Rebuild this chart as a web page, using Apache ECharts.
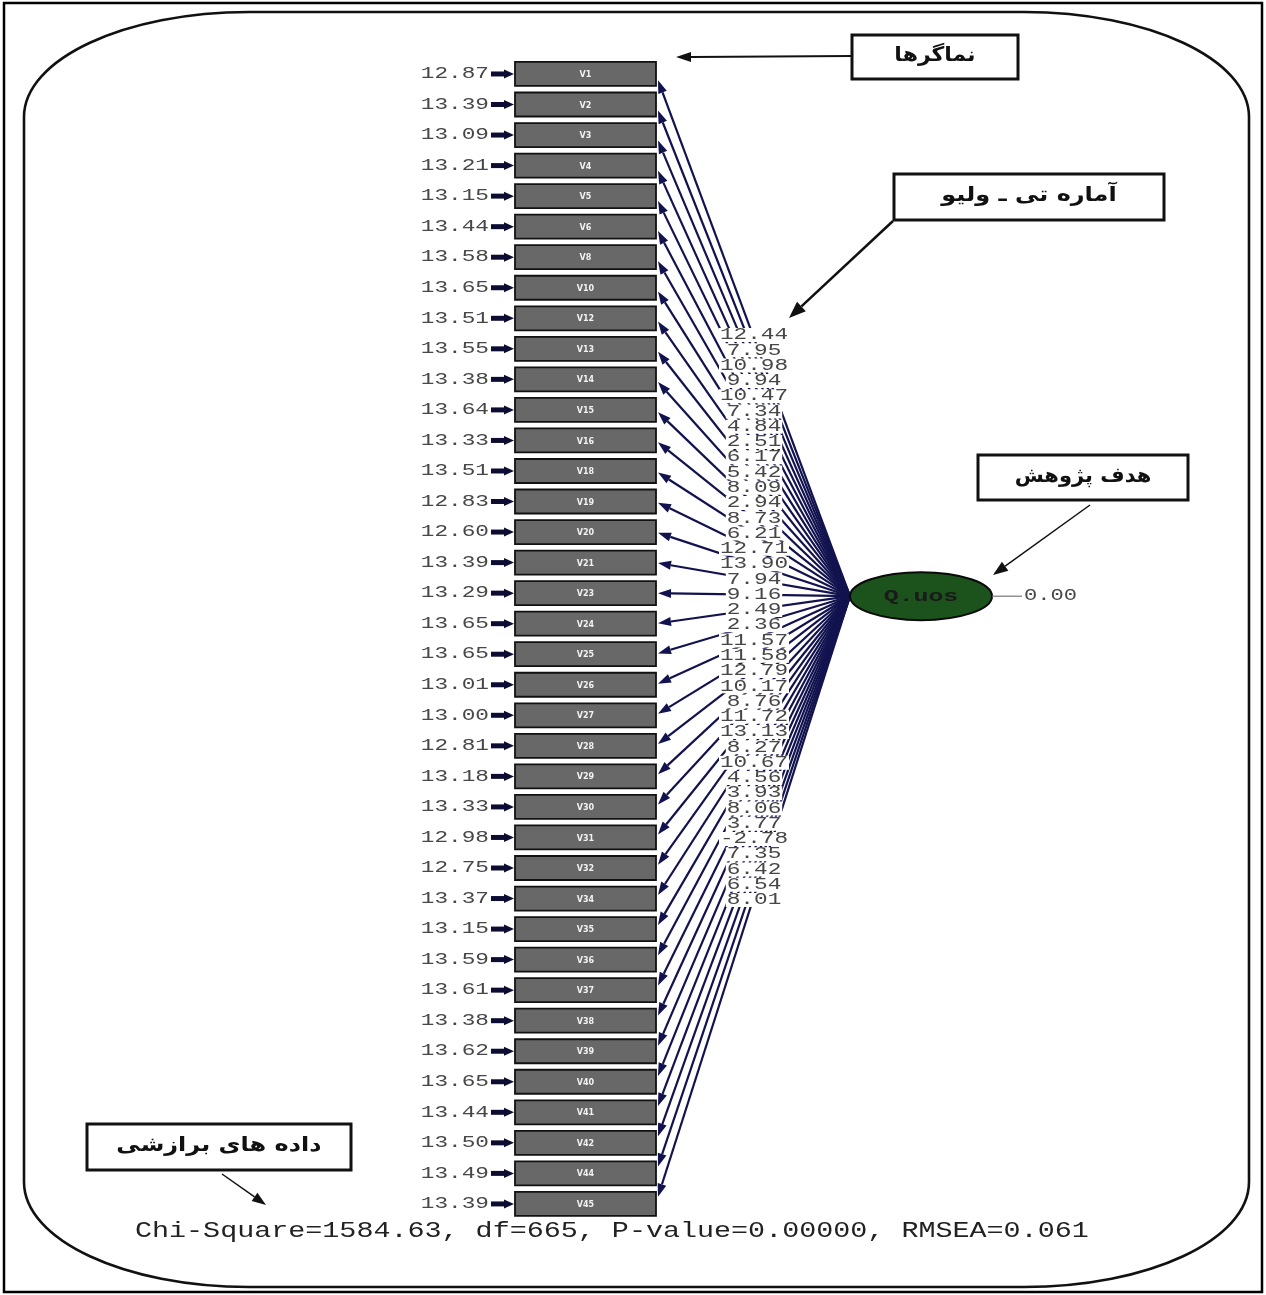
<!DOCTYPE html>
<html>
<head>
<meta charset="utf-8">
<script src="https://cdn.jsdelivr.net/npm/echarts@6/dist/echarts.min.js"></script>
<style>
html,body{margin:0;padding:0;background:#ffffff;}
#c{width:1266px;height:1295px;}
</style>
</head>
<body>
<div id="c"></div>
<script>
// ---------------- DATA ----------------
const indicators = ['V1','V2','V3','V4','V5','V6','V8','V10','V12','V13','V14','V15','V16','V18','V19','V20','V21','V23','V24','V25','V26','V27','V28','V29','V30','V31','V32','V34','V35','V36','V37','V38','V39','V40','V41','V42','V44','V45'];
const errorVariances = [12.87,13.39,13.09,13.21,13.15,13.44,13.58,13.65,13.51,13.55,13.38,13.64,13.33,13.51,12.83,12.60,13.39,13.29,13.65,13.65,13.01,13.00,12.81,13.18,13.33,12.98,12.75,13.37,13.15,13.59,13.61,13.38,13.62,13.65,13.44,13.50,13.49,13.39];
const tValues = [12.44,7.95,10.98,9.94,10.47,7.34,4.84,2.51,6.17,5.42,8.09,2.94,8.73,6.21,12.71,13.90,7.94,9.16,2.49,2.36,11.57,11.58,12.79,10.17,8.76,11.72,13.13,8.27,10.67,4.56,3.93,8.06,3.77,-2.78,7.35,6.42,6.54,8.01];
const latentName = 'Q.uos';
const latentErrorValue = 0.00;
const fitLabels = ['Chi-Square','df','P-value','RMSEA'];
const fitValues = ['1584.63','665','0.00000','0.061'];
const noteIndicators = 'نماگرها';
const noteTValues = 'آماره تی ـ ولیو';
const noteGoal = 'هدف پژوهش';
const noteFit = 'داده های برازشی';

// ---------------- LAYOUT / STYLE ----------------
const L = {
  boxL: 515, boxR: 656, boxH: 24,
  errTextR: 489, errArrowL: 491,
  latCX: 921, latRX: 71, latRY: 24, latRow: 17, latRowOffset: 0.1,
  monoFont: '"Liberation Mono", "DejaVu Sans Mono", monospace',
  numColor: '#474747',
  pathColor: '#12124f',
  charW: 13.6
};

function latentCenter(api) {
  const p = api.coord([L.latCX, L.latRow]);
  const band = api.size([0, 1])[1];
  return [p[0], p[1] + band * L.latRowOffset];
}
function xPix(api, x) { return api.coord([x, 0])[0]; }

function head(tip, from, len, half) {
  const dx = tip[0] - from[0], dy = tip[1] - from[1];
  const d = Math.hypot(dx, dy), ux = dx / d, uy = dy / d;
  const bx = tip[0] - ux * len, by = tip[1] - uy * len;
  const nx = -uy, ny = ux;
  return { base: [bx, by], pts: [tip, [bx + nx * half, by + ny * half], [bx - nx * half, by - ny * half]] };
}

function monoText(x, y, text, size, scaleX, color, align, bold) {
  return {
    type: 'text', x: x, y: y, scaleX: scaleX,
    style: {
      text: text,
      font: (bold ? 'bold ' : '') + size + 'px ' + L.monoFont,
      fill: color,
      textAlign: align || 'center',
      textVerticalAlign: 'middle'
    }
  };
}

const rowData = indicators.map((name, i) => [i, errorVariances[i], tValues[i]]);

// path lines from latent to indicators
function renderPath(params, api) {
  const i = api.value(0);
  const cy = api.coord([0, i])[1];
  const lc = latentCenter(api);
  const from = [xPix(api, L.latCX - L.latRX), lc[1]];
  const tip = [xPix(api, L.boxR + 2), cy + (lc[1] - cy) * 0.012];
  const h = head(tip, from, 13, 4.5);
  return {
    type: 'group',
    children: [
      { type: 'line', shape: { x1: from[0], y1: from[1], x2: h.base[0], y2: h.base[1] }, style: { stroke: L.pathColor, lineWidth: 2.2 } },
      { type: 'polygon', shape: { points: h.pts }, style: { fill: L.pathColor } }
    ]
  };
}

// indicator boxes with error terms
function renderBox(params, api) {
  const i = api.value(0);
  const cy = api.coord([0, i])[1];
  const x0 = xPix(api, L.boxL), x1 = xPix(api, L.boxR);
  const ea = xPix(api, L.errArrowL), et = xPix(api, L.errTextR);
  return {
    type: 'group',
    children: [
      { type: 'rect', shape: { x: x0, y: cy - L.boxH / 2, width: x1 - x0, height: L.boxH }, style: { fill: '#686868', stroke: '#111111', lineWidth: 1.8 } },
      { type: 'text', x: (x0 + x1) / 2, y: cy + 1, style: { text: indicators[i], font: 'bold 8px "DejaVu Sans", sans-serif', fill: '#f2f2f2', textAlign: 'center', textVerticalAlign: 'middle' } },
      { type: 'rect', shape: { x: ea, y: cy - 2.5, width: x0 - ea - 9, height: 5 }, style: { fill: '#0d0d33' } },
      { type: 'polygon', shape: { points: [[x0 - 1, cy], [x0 - 11, cy - 4.5], [x0 - 11, cy + 4.5]] }, style: { fill: '#0d0d33' } },
      monoText(et, cy, api.value(1).toFixed(2), 16, 1.42, L.numColor, 'right', false)
    ]
  };
}

// t-value labels at path midpoints
function renderT(params, api) {
  const i = api.value(0);
  const cy = api.coord([0, i])[1];
  const lc = latentCenter(api);
  const fx = xPix(api, L.latCX - L.latRX);
  const tx = xPix(api, L.boxR + 2);
  const mx = (fx + tx) / 2, my = (lc[1] + cy) / 2;
  const txt = api.value(2).toFixed(2);
  const w = txt.length * L.charW + 2;
  return {
    type: 'group',
    children: [
      { type: 'rect', shape: { x: mx - w / 2, y: my - 7, width: w, height: 14 }, style: { fill: '#ffffff' } },
      monoText(mx, my, txt, 16, 1.42, L.numColor, 'center', false)
    ]
  };
}

// latent variable
function renderLatent(params, api) {
  const lc = latentCenter(api);
  const rEdge = xPix(api, L.latCX + L.latRX);
  return {
    type: 'group',
    children: [
      { type: 'ellipse', shape: { cx: lc[0], cy: lc[1], rx: L.latRX, ry: L.latRY }, style: { fill: '#1c521c', stroke: '#0a0a0a', lineWidth: 2 } },
      monoText(lc[0], lc[1] + 1, latentName, 16, 1.55, '#1a1a1a', 'center', true),
      { type: 'line', shape: { x1: rEdge, y1: lc[1], x2: rEdge + 30, y2: lc[1] }, style: { stroke: '#777777', lineWidth: 1.2 } },
      monoText(rEdge + 32, lc[1], latentErrorValue.toFixed(2), 16, 1.38, L.numColor, 'left', false)
    ]
  };
}

// ---------------- DECORATION (frame, notes) ----------------
function arrowEls(x1, y1, x2, y2, lw, len, half) {
  const h = head([x2, y2], [x1, y1], len, half);
  return [
    { type: 'line', shape: { x1: x1, y1: y1, x2: h.base[0], y2: h.base[1] }, style: { stroke: '#111111', lineWidth: lw }, z: 20 },
    { type: 'polygon', shape: { points: h.pts }, style: { fill: '#111111' }, z: 20 }
  ];
}
function noteBox(x, y, w, h, text, sx) {
  return [
    { type: 'rect', shape: { x: x, y: y, width: w, height: h }, style: { fill: '#ffffff', stroke: '#111111', lineWidth: 3 }, z: 20 },
    { type: 'text', x: x + w / 2, y: y + h / 2 - 1, scaleX: sx, style: { text: text, font: 'bold 20px "DejaVu Sans", sans-serif', fill: '#111111', textAlign: 'center', textVerticalAlign: 'middle' }, z: 21 }
  ];
}
function frameEls(l, t, r, b, rx, ry) {
  const k = 0.5523;
  const st = { stroke: '#111111', lineWidth: 2.6, fill: 'none' };
  const ln = (x1, y1, x2, y2) => ({ type: 'line', shape: { x1, y1, x2, y2 }, style: st, z: 1 });
  const bz = (x1, y1, cpx1, cpy1, cpx2, cpy2, x2, y2) => ({ type: 'bezierCurve', shape: { x1, y1, cpx1, cpy1, cpx2, cpy2, x2, y2 }, style: st, z: 1 });
  return [
    ln(l + rx, t, r - rx, t),
    bz(r - rx, t, r - rx + k * rx, t, r, t + ry - k * ry, r, t + ry),
    ln(r, t + ry, r, b - ry),
    bz(r, b - ry, r, b - ry + k * ry, r - rx + k * rx, b, r - rx, b),
    ln(r - rx, b, l + rx, b),
    bz(l + rx, b, l + rx - k * rx, b, l, b - ry + k * ry, l, b - ry),
    ln(l, b - ry, l, t + ry),
    bz(l, t + ry, l, t + ry - k * ry, l + rx - k * rx, t, l + rx, t)
  ];
}

const fitText = fitLabels.map((lab, i) => lab + '=' + fitValues[i]).join(', ');

const graphics = [
  { type: 'rect', shape: { x: 4, y: 3, width: 1258, height: 1289 }, style: { fill: 'none', stroke: '#000000', lineWidth: 2.5 }, z: 0 },
  ...frameEls(24, 12, 1249, 1287, 225, 105),
  ...noteBox(852, 35, 166, 44, noteIndicators, 1.1),
  ...arrowEls(852, 56, 676, 57, 2, 15, 5),
  ...noteBox(894, 174, 270, 46, noteTValues, 1.2),
  ...arrowEls(893, 221, 789, 318, 2.5, 17, 6.5),
  ...noteBox(978, 455, 210, 45, noteGoal, 1.05),
  ...arrowEls(1090, 505, 993, 575, 1.5, 15, 5.5),
  ...noteBox(87, 1124, 264, 46, noteFit, 1.2),
  ...arrowEls(222, 1174, 266, 1205, 1.5, 14, 5),
  { type: 'text', x: 135, y: 1231, scaleX: 1.29, style: { text: fitText, font: '22px ' + L.monoFont, fill: '#222222', textAlign: 'left', textVerticalAlign: 'middle' }, z: 20 }
];

// ---------------- CHART ----------------
const chart = echarts.init(document.getElementById('c'));
chart.setOption({
  backgroundColor: '#ffffff',
  animation: false,
  grid: { left: 0, right: 0, top: 58.7, bottom: 75.8 },
  xAxis: { type: 'value', min: 0, max: 1266, show: false },
  yAxis: { type: 'category', data: indicators, inverse: true, show: false },
  graphic: graphics,
  series: [
    { type: 'custom', name: 'paths', silent: true, z: 2, data: rowData, encode: { y: 0 }, renderItem: renderPath, clip: false },
    { type: 'custom', name: 'indicators', silent: true, z: 3, data: rowData, encode: { y: 0 }, renderItem: renderBox, clip: false },
    { type: 'custom', name: 'tvalues', silent: true, z: 4, data: rowData, encode: { y: 0 }, renderItem: renderT, clip: false },
    { type: 'custom', name: 'latent', silent: true, z: 5, data: [[L.latRow]], encode: { y: 0 }, renderItem: renderLatent, clip: false }
  ]
});
</script>
</body>
</html>
